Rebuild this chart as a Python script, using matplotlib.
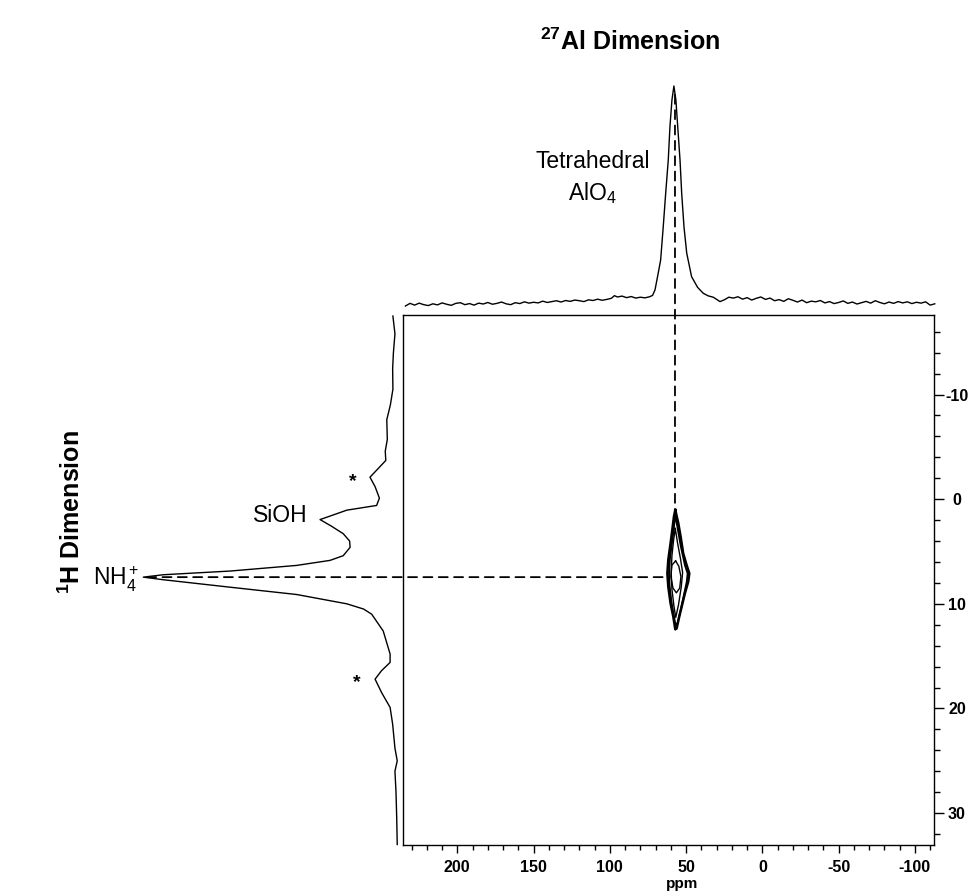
import matplotlib
matplotlib.use("Agg")
import matplotlib.pyplot as plt
from matplotlib.patches import ConnectionPatch
from matplotlib.ticker import FixedLocator, MultipleLocator

plt.rcParams['font.family'] = ['Liberation Sans', 'DejaVu Sans']
plt.rcParams['mathtext.fontset'] = 'custom'
plt.rcParams['mathtext.rm'] = 'Liberation Sans'
plt.rcParams['mathtext.it'] = 'Liberation Sans:italic'
plt.rcParams['mathtext.bf'] = 'Liberation Sans:bold'
plt.rcParams['axes.unicode_minus'] = False

# ---------------- data ----------------
# 27Al projection (top): chemical shift (ppm) and normalised intensity
al_ppm = [234, 231, 228, 225, 222, 219, 216, 213, 210, 207, 204, 201, 198, 195, 192,
          189, 186, 183, 180, 177, 174, 171, 168, 165, 162, 159, 156, 153, 150, 147,
          144, 141, 138, 135, 132, 129, 126, 123, 120, 117, 114, 111, 108, 105, 102,
          99, 97, 95, 92, 89, 86, 83, 80, 77, 74, 72, 70.4, 68.3, 66.7, 65.0, 63.4,
          61.7, 60.6, 59.3, 58.0, 56.7, 55.5, 54.0, 52.9, 51.4, 49.6, 46.4, 42.5, 38.8,
          35.5, 32.2, 30, 27.8, 25, 22, 19, 16, 13, 10, 7, 4, 1, -2, -5, -8, -11, -14,
          -17, -20, -23, -26, -29, -32, -35, -38, -41, -44, -47, -50, -53, -56, -59,
          -62, -65, -68, -71, -74, -77, -80, -83, -86, -89, -92, -95, -98, -101, -104,
          -107, -110, -113]
al_int = [0.000, 0.012, 0.004, 0.013, 0.006, 0.002, 0.010, 0.005, 0.014, 0.008, 0.003,
          0.012, 0.015, 0.006, 0.011, 0.004, 0.013, 0.009, 0.016, 0.008, 0.012, 0.018,
          0.010, 0.006, 0.015, 0.011, 0.019, 0.013, 0.017, 0.014, 0.022, 0.016, 0.020,
          0.024, 0.018, 0.025, 0.021, 0.027, 0.024, 0.020, 0.028, 0.025, 0.031, 0.026,
          0.030, 0.035, 0.047, 0.041, 0.045, 0.038, 0.043, 0.036, 0.040, 0.037, 0.042,
          0.048, 0.073, 0.149, 0.209, 0.360, 0.512, 0.664, 0.815, 0.936, 1.000, 0.936,
          0.815, 0.664, 0.512, 0.360, 0.240, 0.133, 0.085, 0.058, 0.046, 0.040, 0.030,
          0.020, 0.028, 0.040, 0.036, 0.042, 0.031, 0.038, 0.027, 0.035, 0.041, 0.030,
          0.036, 0.024, 0.029, 0.021, 0.033, 0.026, 0.018, 0.027, 0.015, 0.022, 0.019,
          0.025, 0.014, 0.020, 0.011, 0.016, 0.023, 0.012, 0.018, 0.009, 0.015, 0.021,
          0.013, 0.024, 0.016, 0.010, 0.018, 0.012, 0.020, 0.014, 0.019, 0.011, 0.017,
          0.013, 0.019, 0.004, 0.010]

# 1H projection (left): chemical shift (ppm) and normalised intensity
h_ppm = [-17.5, -15.8, -14.0, -12.5, -10.5, -9.0, -7.6, -5.7, -4.6, -3.7, -3.0, -2.1,
         -1.2, -0.1, 0.6, 1.05, 1.95, 2.6, 3.3, 4.0, 4.6, 5.4, 5.85, 6.33, 6.87, 7.22,
         7.45, 7.70, 8.41, 9.11, 10.0, 10.5, 11.0, 12.6, 14.8, 15.6, 16.4, 17.2, 18.5,
         19.9, 21.5, 23.8, 25.0, 26.0, 27.9, 30.5, 33.0]
h_int = [0.020, 0.012, 0.018, 0.021, 0.020, 0.030, 0.044, 0.042, 0.050, 0.048, 0.075,
         0.110, 0.090, 0.073, 0.084, 0.201, 0.306, 0.260, 0.215, 0.190, 0.188, 0.215,
         0.267, 0.398, 0.660, 0.921, 1.000, 0.921, 0.660, 0.398, 0.201, 0.135, 0.103,
         0.058, 0.031, 0.031, 0.065, 0.090, 0.064, 0.031, 0.021, 0.012, 0.003, 0.012,
         0.008, 0.005, 0.003]

# 2D contour outlines (27Al ppm, 1H ppm), outer to inner
c1_al = [57.1, 55.1, 53.6, 51.9, 49.7, 47.9, 48.6, 50.8, 52.9, 54.5, 56.2, 57.1,
         58.4, 60.2, 61.7, 62.3, 61.7, 60.2, 58.8, 58.0, 57.1]
c1_h = [1.03, 2.31, 3.58, 5.18, 6.29, 7.09, 7.88, 9.00, 10.27, 11.23, 12.35, 12.44,
        11.23, 9.96, 8.36, 7.09, 5.81, 4.22, 2.63, 1.67, 1.03]
c2_al = [57.1, 55.3, 53.5, 50.8, 49.0, 49.6, 51.5, 53.6, 55.6, 56.9, 58.2, 59.6,
         60.8, 61.2, 60.6, 59.2, 58.0, 57.1]
c2_h = [1.5, 3.0, 4.5, 6.3, 7.1, 7.9, 9.2, 10.6, 11.8, 12.1, 11.0, 9.8, 8.3, 7.1,
        5.7, 4.1, 2.7, 1.5]
c3_al = [57.1, 55.6, 53.8, 52.3, 53.2, 55.0, 56.8, 58.0, 59.3, 59.8, 59.3, 58.2, 57.1]
c3_h = [2.8, 4.2, 5.6, 7.0, 8.4, 10.1, 11.3, 10.2, 8.6, 7.0, 5.4, 3.9, 2.8]
c4_al = [56.9, 54.8, 53.4, 54.2, 56.4, 58.6, 60.0, 59.3, 56.9]
c4_h = [5.9, 6.4, 7.4, 8.5, 8.95, 8.5, 7.4, 6.3, 5.9]

al_peak = 57.3      # tetrahedral AlO4 position (ppm)
nh4_peak = 7.45     # NH4+ position (ppm)

x_ticks = [200, 150, 100, 50, 0, -50, -100]
x_tick_labels = ['200', '150', '100', '50', '0', '-50', '-100']
y_ticks = [-10, 0, 10, 20, 30]
y_tick_labels = ['-10', '0', '10', '20', '30']

# ---------------- layout ----------------
W, H = 971, 894
fig = plt.figure(figsize=(W / 100, H / 100), dpi=100)


def box(x0, y0, x1, y1):
    return [x0 / W, 1 - y1 / H, (x1 - x0) / W, (y1 - y0) / H]


def fxy(x, y):
    return x / W, 1 - y / H


XLIM = (235.4, -112.5)
YLIM = (33.0, -17.6)

ax = fig.add_axes(box(403.3, 315, 934, 844.5))
ax.set_xlim(*XLIM)
ax.set_ylim(*YLIM)
for s in ax.spines.values():
    s.set_linewidth(1.0)
ax.yaxis.tick_right()
ax.xaxis.set_major_locator(FixedLocator(x_ticks))
ax.xaxis.set_minor_locator(MultipleLocator(10))
ax.yaxis.set_major_locator(FixedLocator(y_ticks))
ax.yaxis.set_minor_locator(MultipleLocator(2))
ax.set_xticklabels(x_tick_labels, fontsize=11.5, fontweight='bold')
ax.set_yticklabels(y_tick_labels, fontsize=11.5, fontweight='bold')
ax.tick_params(axis='x', which='major', direction='out', length=5.5, width=1.0, pad=6)
ax.tick_params(axis='x', which='minor', direction='out', length=3.5, width=1.0)
ax.tick_params(axis='y', which='major', direction='out', length=7, width=1.0, pad=9.5)
ax.tick_params(axis='y', which='minor', direction='out', length=4.5, width=1.0)
for lab in ax.get_yticklabels():
    lab.set_horizontalalignment('center')

for cx, cy, lw in [(c1_al, c1_h, 1.8), (c2_al, c2_h, 1.3), (c3_al, c3_h, 1.0), (c4_al, c4_h, 1.0)]:
    ax.plot(cx, cy, color='black', lw=lw)

# top projection
axt = fig.add_axes(box(403.3, 86, 934, 306))
axt.set_xlim(*XLIM)
axt.set_ylim(0, 1)
axt.axis('off')
axt.plot(al_ppm, al_int, color='black', lw=1.0, clip_on=False)

# left projection
axl = fig.add_axes(box(143.3, 315, 398, 844.5))
axl.set_xlim(1, 0)
axl.set_ylim(*YLIM)
axl.axis('off')
axl.plot(h_int, h_ppm, color='black', lw=1.0, clip_on=False)

# dashed correlation lines
dash = (0, (5, 3.5))
con1 = ConnectionPatch(xyA=(al_peak, 0.96), coordsA=axt.transData,
                       xyB=(al_peak, 1.1), coordsB=ax.transData,
                       linestyle=dash, lw=1.3, color='black')
fig.add_artist(con1)
con2 = ConnectionPatch(xyA=(0.985, nh4_peak), coordsA=axl.transData,
                       xyB=(62.0, nh4_peak), coordsB=ax.transData,
                       linestyle=dash, lw=1.3, color='black')
fig.add_artist(con2)

# labels
fig.text(*fxy(682, 884), 'ppm', fontsize=11, fontweight='bold', ha='center', va='center')
fig.text(*fxy(630, 42), r'$^{\mathbf{27}}$Al Dimension', fontsize=18, fontweight='bold',
         ha='center', va='center')
fig.text(*fxy(72, 512), r'$^{\mathbf{1}}$H Dimension', fontsize=18, fontweight='bold',
         ha='center', va='center', rotation=90)
fig.text(*fxy(593, 161), 'Tetrahedral', fontsize=16.5, ha='center', va='center')
fig.text(*fxy(592, 193), r'AlO$_4$', fontsize=16.5, ha='center', va='center')
fig.text(*fxy(280, 516), 'SiOH', fontsize=16.5, ha='center', va='center')
fig.text(*fxy(139, 579), r'NH$_4^+$', fontsize=16.5, ha='right', va='center')
fig.text(*fxy(353, 482), '*', fontsize=14, fontweight='bold', ha='center', va='center')
fig.text(*fxy(357, 683), '*', fontsize=14, fontweight='bold', ha='center', va='center')

fig.savefig('out.png', dpi=100)
